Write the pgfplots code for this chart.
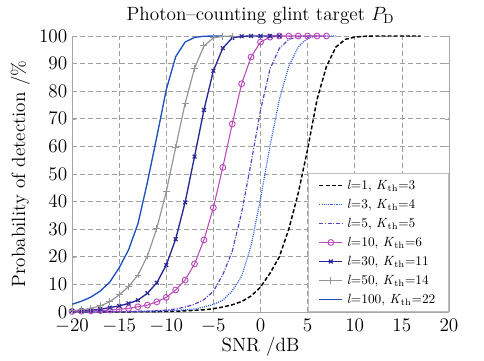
\documentclass[border=0pt]{standalone}
\usepackage{pgfplots}
\pgfplotsset{compat=1.18}
\definecolor{cA}{RGB}{0,0,0}
\definecolor{cB}{RGB}{50,95,220}
\definecolor{cC}{RGB}{95,65,195}
\definecolor{cD}{RGB}{185,75,185}
\definecolor{cE}{RGB}{40,40,150}
\definecolor{cF}{RGB}{150,150,150}
\definecolor{cG}{RGB}{30,80,190}
\begin{document}
\begin{tikzpicture}
\begin{axis}[
  scale only axis, width=282.75pt, height=207pt,
  xmin=-20, xmax=20, ymin=0, ymax=100,
  xtick={-20,-15,...,20}, ytick={0,10,...,100},
  axis x line*=bottom, axis y line*=box,
  axis line style={gray!70, line width=0.5pt},
  tick style={gray!70},
  major tick length=3pt,
  grid=major,
  major grid style={gray!75, line width=0.5pt, dash pattern=on 3.5pt off 2.5pt},
  tick label style={font=\Large},
  xticklabel style={yshift=-2pt},
  label style={font=\Large},
  xlabel style={yshift=4pt},
  title style={font=\Large, yshift=-1pt},
  title={Photon--counting glint target $P_{\mathrm{D}}$},
  xlabel={SNR /dB},
  ylabel={Probability of detection /\%},
  legend cell align=left,
  legend style={at={(1,0)}, anchor=south east, draw=gray!50, fill=white,
    font=\normalsize, row sep=1.8pt, inner xsep=8pt, inner ysep=3pt,
    /tikz/every odd column/.append style={column sep=1pt}},
]
% l=1
\addplot[cA, line width=1.1pt, dash pattern=on 3pt off 1.6pt] coordinates {
(-20,0) (-15,0.05) (-10,0.2) (-8,0.4) (-6,0.8) (-5,1.2) (-4,1.8) (-3,2.6) (-2,3.8) (-1,5.8)
(0,9) (1,14) (2,20) (3,30) (4,43) (5,59) (6,77) (7,89) (8,96) (9,98.8) (10,99.6) (11,99.9) (12,100) (17,100)};
\addlegendentry{\textit{l}=1, \textit{K}$_{\mathrm{th}}$=3}
% l=3
\addplot[cB, line width=0.9pt, dash pattern=on 0.8pt off 0.8pt] coordinates {
(-20,0) (-15,0.05) (-12,0.2) (-10,0.4) (-8,0.8) (-7,1.1) (-6,1.8) (-5,2.7) (-4,4.3) (-3,7.6) (-2,13)
(-1,24) (0,41) (1,60) (2,77) (3,89) (4,96) (5,99.3) (6,99.9) (7,100) (8,100)};
\addlegendentry{\textit{l}=3, \textit{K}$_{\mathrm{th}}$=4}
% l=5
\addplot[cC, line width=0.9pt, dash pattern=on 3pt off 1.2pt on 0.8pt off 1.2pt] coordinates {
(-20,0) (-15,0.1) (-12,0.3) (-10,0.7) (-9,1.1) (-8,1.8) (-7,2.8) (-6,4.5) (-5,7.5) (-4,13.5) (-3,22)
(-2,36) (-1,54) (0,73) (1,88) (2,95.5) (3,98.8) (4,99.7) (5,100) (6,100)};
\addlegendentry{\textit{l}=5, \textit{K}$_{\mathrm{th}}$=5}
% l=10
\addplot[cD, line width=0.8pt, mark=o, mark size=2.2pt, mark options={solid, line width=0.7pt}] coordinates {
(-20,0.2) (-19,0.3) (-18,0.4) (-17,0.5) (-16,0.7) (-15,1.0) (-14,1.3) (-13,1.9) (-12,2.5) (-11,3.7)
(-10,5.3) (-9,8.0) (-8,11.6) (-7,17.4) (-6,26.1) (-5,37.8) (-4,52.4) (-3,68.1) (-2,82.7) (-1,92.4)
(0,97.8) (1,99.6) (2,100) (3,100) (4,100) (5,100) (6,100) (7,100)};
\addlegendentry{\textit{l}=10, \textit{K}$_{\mathrm{th}}$=6}
% l=30
\addplot[cE, line width=1pt, mark=x, mark size=2pt, mark options={solid, line width=0.9pt}] coordinates {
(-20,0.4) (-19,0.5) (-18,0.7) (-17,1.0) (-16,1.6) (-15,2.2) (-14,3.1) (-13,4.3) (-12,6.8) (-11,10.6)
(-10,17.0) (-9,26.4) (-8,39.7) (-7,56.3) (-6,73.2) (-5,87.4) (-4,95.6) (-3,99.3) (-2,99.9) (-1,100)
(0,100) (1,100) (2,100)};
\addlegendentry{\textit{l}=30, \textit{K}$_{\mathrm{th}}$=11}
% l=50
\addplot[cF, line width=0.9pt, mark=+, mark size=2.6pt, mark options={solid, line width=0.7pt}] coordinates {
(-20,0.5) (-19,0.8) (-18,1.3) (-17,2.2) (-16,3.7) (-15,6.2) (-14,9.2) (-13,13.4) (-12,20.3) (-11,30.3)
(-10,43.6) (-9,59.7) (-8,75.6) (-7,88.3) (-6,96.4) (-5,99.3) (-4,99.9) (-3,100)};
\addlegendentry{\textit{l}=50, \textit{K}$_{\mathrm{th}}$=14}
% l=100
\addplot[cG, line width=1pt] coordinates {
(-20,2.8) (-19,3.9) (-18,5.4) (-17,7.6) (-16,10.8) (-15,16) (-14,22.5) (-13,32) (-12,47) (-11,63.5)
(-10,80.5) (-9,92.5) (-8,97.8) (-7,99.5) (-6,99.9) (-5,100) (-4,100)};
\addlegendentry{\textit{l}=100, \textit{K}$_{\mathrm{th}}$=22}
\end{axis}
\pgfresetboundingbox
\path ([xshift=-54pt,yshift=-36pt]current axis.south west) rectangle ([xshift=26.25pt,yshift=27pt]current axis.north east);
\end{tikzpicture}
\end{document}
